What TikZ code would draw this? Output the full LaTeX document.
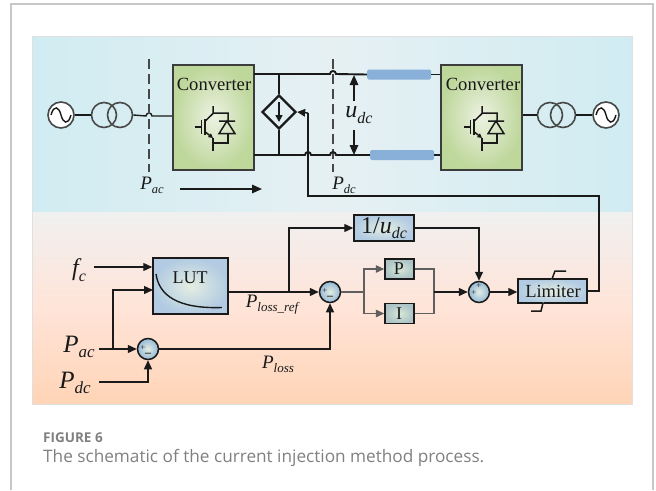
\documentclass[tikz,border=0pt]{standalone}
\usepackage{fontspec}
\setmainfont{Liberation Serif}
\newfontfamily\capfont{Open Sans}
\usetikzlibrary{arrows.meta,shapes.geometric,calc}
\definecolor{wire}{HTML}{1A1A1A}
\definecolor{edgeblue}{HTML}{D0ECF2}
\definecolor{midblue}{HTML}{E6F0F3}
\definecolor{barblue}{HTML}{88B0D8}
\definecolor{capgrey}{HTML}{808080}
\newcommand{\fs}[1]{\fontsize{#1}{#1}\selectfont}
\newcommand{\lbl}[4]{{\fs{#1}\itshape #2\raisebox{-0.22em}{\fs{#3}\itshape #4}}}
\tikzset{
  wirel/.style={draw=wire,line width=1.4pt},
  thick wire/.style={draw=wire,line width=1.9pt},
  arr/.style={wirel,-{Triangle[length=9pt,width=8pt]}},
  graywire/.style={draw=wire!70,line width=1.4pt},
  grayarr/.style={graywire,-{Triangle[length=8.5pt,width=7.5pt]}},
  conv/.style={rectangle,draw=wire!85,line width=1.6pt,minimum width=81pt,minimum height=105pt,inner sep=0pt,
    inner color={rgb,255:red,236;green,242;blue,226},outer color={rgb,255:red,190;green,215;blue,155}},
  blockb/.style={rectangle,draw=wire,line width=1.5pt,inner sep=0pt,
    inner color={rgb,255:red,228;green,238;blue,226},outer color={rgb,255:red,178;green,203;blue,226}},
  blockg/.style={blockb,inner color={rgb,255:red,215;green,232;blue,215},outer color={rgb,255:red,172;green,196;blue,198}},
  sumc/.style={circle,draw=wire,line width=1.5pt,minimum size=21pt,inner sep=0pt,
    inner color={rgb,255:red,226;green,236;blue,226},outer color={rgb,255:red,150;green,185;blue,215}},
  srcc/.style={circle,draw=wire!80,line width=1.6pt,fill=white,minimum size=26pt,inner sep=0pt},
  trc/.style={circle,draw=wire!80,line width=1.6pt,minimum size=25pt,inner sep=0pt},
  dashv/.style={draw=wire!80,line width=1.5pt,dash pattern=on 10pt off 5pt},
  bar/.style={rectangle,rounded corners=1.5pt,fill=barblue,minimum width=64pt,minimum height=10pt,inner sep=0pt},
  txt/.style={inner sep=0pt,text=black!90},
  smallsign/.style={inner sep=0pt,font=\fs{9},text=black!85},
  igbt/.pic={
    \draw[wire,line width=1.5pt] (-18.5,0)--(-11.7,0) (-11.7,-6.7)--(-11.7,6.7);
    \draw[wire,line width=1.8pt] (-7.7,-8)--(-7.7,8);
    \draw[wire,line width=1.5pt] (-7.7,-6)--(0,-13.5)--(0,-21) (0,-14)--(15,-14)--(15,-6);
    \draw[wire,line width=1.5pt,-{Triangle[length=4.5pt,width=4.5pt]}] (-7.7,5)--(0,11);
    \draw[wire,line width=1.5pt] (0,11)--(0,24) (0,16)--(15,16)--(15,6.7);
    \draw[wire,line width=1.5pt] (6,-6)--(22,-6) (14,-6)--(6,6.7)--(22,6.7)--cycle;
  },
  sine/.pic={\draw[wire,line width=1.4pt] (-10,0) .. controls (-7,-11) and (-2,-8) .. (0,0) .. controls (2,8) and (7,11) .. (10,0);}
}
\begin{document}
\begin{tikzpicture}[x=1pt,y=-1pt]
\useasboundingbox (0,0) rectangle (656,490);
\draw[black!22,line width=1.2pt] (11,490)--(11,4)--(653,4)--(653,490);
\fill[left color=edgeblue,right color=midblue] (32,36) rectangle (332,212);
\fill[left color=midblue,right color=edgeblue] (332,36) rectangle (632,212);
\fill[top color={rgb,255:red,240;green,240;blue,240},bottom color={rgb,255:red,255;green,212;blue,182},middle color={rgb,255:red,255;green,228;blue,216}] (32,212) rectangle (632,404);
\draw[black!12,line width=1pt] (32,404)--(32,36)--(632,36)--(632,404)--cycle;
\node[srcc] (s1) at (61,115) {};
\pic at (61,115) {sine};
\node[trc] (t1) at (104,115) {};
\node[trc] (t2) at (120,115) {};
\node[conv] (c1) at (213.5,117.5) {};
\node[txt,font=\fs{18.6}] (c1t) at (214,84) {Converter};
\pic at (213,127) {igbt};
\node[conv] (c2) at (481.5,117.5) {};
\node[txt,font=\fs{18.6}] (c2t) at (483,84) {Converter};
\pic at (482,127) {igbt};
\node[trc] (t3) at (550,115) {};
\node[trc] (t4) at (563,115) {};
\node[srcc] (s2) at (606,115) {};
\pic at (606,115) {sine};
\draw[wirel] (s1)--(t1);
\coordinate (b0) at (149,116);
\draw[wirel] (t2.east) -- (146,116) arc[start angle=180,end angle=0,radius=3pt] -- (c1.west |- b0);
\draw[wirel] (c2.east |- t3) -- (t3.west);
\draw[wirel] (t4)--(s2);
\coordinate (d1a) at (149,59); \coordinate (d1b) at (149,172);
\coordinate (d2a) at (333,59); \coordinate (d2b) at (333,172);
\draw[dashv] (d1a)--(d1b);
\draw[dashv] (d2a)--(d2b);
\node[bar] (b1) at (399,74.5) {};
\node[bar] (b2) at (402,155) {};
\coordinate (ct) at (254,74); \coordinate (cb) at (254,155);
\draw[thick wire] (ct) -- (330,74) arc[start angle=180,end angle=0,radius=3pt] -- (b1.west);
\draw[wirel] (b1.east) -- (c2.west |- b1);
\draw[thick wire] (cb) -- (305,155) arc[start angle=180,end angle=0,radius=3pt] -- (330,155) arc[start angle=180,end angle=0,radius=3pt] -- (b2.west);
\draw[wirel] (b2.east) -- (c2.west |- b2);
\node[diamond,draw=wire,line width=2.3pt,minimum width=34pt,minimum height=34pt,inner sep=0pt,aspect=1] (dm) at (279,112) {};
\coordinate (dt) at (279,74); \coordinate (db) at (279,155);
\draw[thick wire] (dt)--(dm.north);
\draw[thick wire] (dm.south)--(db);
\draw[wire,line width=1.6pt,-{Triangle[length=7pt,width=7pt]}] (279,102)--(279,122);
\node[blockb,minimum width=69pt,minimum height=24pt] (lim) at (552.5,291) {};
\coordinate (fbA) at (599,196); \coordinate (fbB) at (308,196); \coordinate (fbC) at (308,113);
\draw[wirel] (lim.east) -| (fbA) -- (fbB) -- (fbC);
\draw[wirel,-{Triangle[length=8pt,width=7.5pt]}] (fbC) -- (dm.east);
\node[txt] (pac) at (152,185) {\lbl{19}{P}{12.5}{ac}};
\node[txt] (pdc) at (344,185) {\lbl{19}{P}{12.5}{dc}};
\node[txt] (udc) at (359,115) {\lbl{24}{u}{16}{dc}};
\coordinate (fa) at (180,189); \coordinate (fb) at (262,189);
\draw[wire,line width=1.6pt,-{Triangle[length=10pt,width=8.5pt]}] (fa)--(fb);
\coordinate (ua) at (354,101); \coordinate (ub) at (354,75);
\coordinate (va) at (354,130); \coordinate (vb) at (354,155);
\draw[wire,line width=1.6pt,-{Triangle[length=10pt,width=8.5pt]}] (ua)--(ub);
\draw[wire,line width=1.6pt,-{Triangle[length=10pt,width=8.5pt]}] (va)--(vb);
\node[txt] (fc) at (79,270) {\lbl{24}{f}{16}{c}};
\node[txt] (pac2) at (79,347) {\lbl{25}{P}{17}{ac}};
\node[txt] (pdc2) at (75,383) {\lbl{25}{P}{17}{dc}};
\node[blockb,minimum width=75pt,minimum height=56pt] (lut) at (190.5,286) {};
\node[txt,font=\fs{18}] (lutt) at (190,278) {LUT};
\draw[wire,line width=1.4pt] (156,274) .. controls (159,295) and (177,309) .. (222,307.5);
\node[sumc] (sum1) at (148,349) {};
\node[sumc] (sum2) at (330,292) {};
\node[sumc] (sum3) at (479,292) {};
\node[smallsign] (s1p) at (143,348) {+};
\node[smallsign,font=\fs{12}\bfseries] (s1m) at (148,354.5) {–};
\node[smallsign] (s2p) at (325,291) {+};
\node[smallsign,font=\fs{12}\bfseries] (s2m) at (330,297.5) {–};
\node[smallsign] (s3p) at (479,285.5) {+};
\node[smallsign] (s3q) at (474,293) {+};
\node[blockb,minimum width=60pt,minimum height=26pt] (inv) at (384,228) {};
\node[txt] (invt) at (384,228) {{\fs{24}1/\itshape u\raisebox{-0.22em}{\fs{16}\itshape dc}}};
\node[blockg,minimum width=29pt,minimum height=20pt] (p) at (399.5,269) {};
\node[txt,font=\fs{18}] (pt) at (399,269) {P};
\node[blockg,minimum width=29pt,minimum height=20pt] (i) at (399.5,313.5) {};
\node[txt,font=\fs{18}] (it) at (399,313.5) {I};
\node[txt,font=\fs{18.5}] (limt) at (553,291) {Limiter};
\draw[wire,line width=1.5pt] (566,271)--(555,271)--(552,279);
\draw[wire,line width=1.5pt] (543,303)--(541,311)--(531,311);
\draw[black!25,line width=.6pt,dashed] (552,279)--(543,303);
\coordinate (fcs) at (94,267); \coordinate (pas) at (99,349); \coordinate (pds) at (99,382);
\coordinate (jn) at (113,349);
\draw[arr] (fcs) -- (lut.west |- fcs);
\draw[wirel] (pas) -- (jn);
\draw[arr] (jn) -- (sum1.west);
\coordinate (lin) at (153,290);
\draw[arr] (jn) |- (lin);
\draw[arr] (pds) -| (sum1.south);
\draw[arr] (sum1.east) -| (sum2.south);
\coordinate (lo) at (228,292);
\coordinate (tap) at (289,292);
\draw[arr] (lo) -- (sum2.west);
\draw[arr] (tap) |- (inv.west);
\draw[arr] (inv.east) -| (sum3.north);
\coordinate (sp) at (364,292); \coordinate (jo) at (434,292);
\draw[graywire] (sum2.east) -- (sp);
\draw[grayarr] (sp) |- (p.west);
\draw[grayarr] (sp) |- (i.west);
\draw[graywire] (p.east) -| (jo);
\draw[graywire] (i.east) -| (jo);
\draw[arr] (jo) -- (sum3.west);
\draw[arr] (sum3.east) -- (lim.west |- sum3);
\node[txt] (pref) at (272,305) {\lbl{19}{P}{13}{loss\_ref}};
\node[txt] (ploss) at (278,364) {\lbl{19}{P}{13}{loss}};
\node[anchor=base west,inner sep=0pt,text=capgrey] (figl) at (43,442) {\capfont\bfseries\fs{13.5}FIGURE 6};
\node[anchor=base west,inner sep=0pt,text=capgrey] (capt) at (43,462) {\capfont\fs{17.2}The schematic of the current injection method process.};
\end{tikzpicture}
\end{document}
